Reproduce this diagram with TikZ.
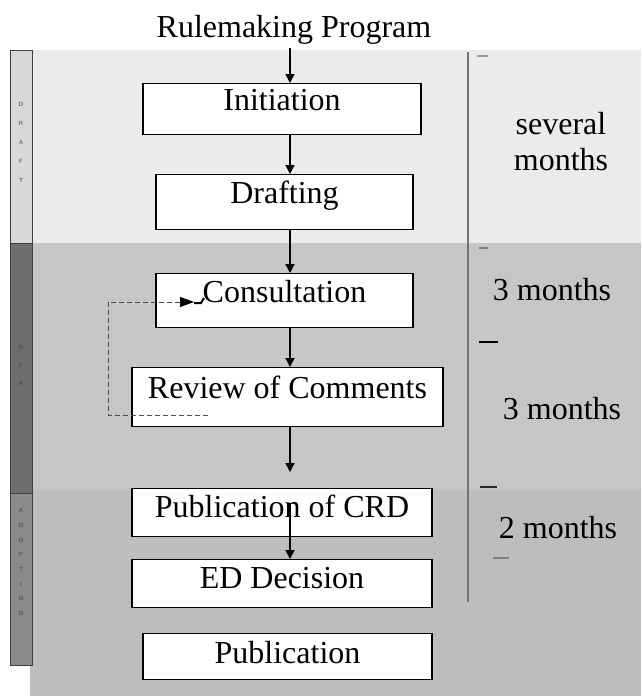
\documentclass[tikz,border=0pt]{standalone}
\usepackage{fontspec}
\setmainfont{Liberation Serif}
\usetikzlibrary{arrows.meta}
\definecolor{bandtop}{HTML}{EBEBEB}
\definecolor{bandmid}{HTML}{C6C6C6}
\definecolor{bandlow}{HTML}{BDBDBD}
\definecolor{striptop}{HTML}{D8D8D8}
\definecolor{stripmid}{HTML}{6E6E6E}
\definecolor{striplow}{HTML}{8A8A8A}
\newcommand{\stagefont}{\fontsize{32}{36}\selectfont}
\tikzset{
  stage/.style={draw=black, fill=white, line width=1.2pt, inner sep=0pt, anchor=north},
  flow/.style={line width=1.4pt, -{Triangle[length=9pt,width=9pt]}},
  feedback/.style={black!70, line width=0.9pt, dash pattern=on 5pt off 3pt, -{Triangle[length=14pt,width=10pt,color=black]}},
  strip/.style={draw=black!75, line width=1pt},
  stripletters/.style={font=\fontsize{6}{#1}\selectfont\sffamily, align=center, text=black!75, inner sep=0pt},
  tlmark/.style={line width=1.6pt}
}
\begin{document}
\begin{tikzpicture}[x=1pt,y=-1pt,font=\stagefont]
\useasboundingbox (0,0) rectangle (641,696);
\fill[bandtop] (32,50) rectangle (641,243);
\fill[bandmid] (32,243) rectangle (641,490);
\fill[bandlow] (30,490) rectangle (641,696);
\draw[strip, fill=striptop] (10,50) rectangle (32,243);
\draw[strip, fill=stripmid] (10,243) rectangle (32,493);
\draw[strip, fill=striplow] (10,493) rectangle (32,665);
\node[stripletters=19] (draftphase) at (21,142) {D\\R\\A\\F\\T};
\node[stripletters=18] (npaphase) at (21,365) {N\\P\\A};
\node[stripletters=14.7] (adoptphase) at (21,562) {A\\D\\O\\P\\T\\I\\O\\N};

\coordinate (ax) at (290,0);
\node[inner sep=4pt, anchor=base] (title) at (294,37) {Rulemaking Program};
\node[stage, minimum width=278pt, text height=27pt, text depth=24pt] (init) at (282,83) {Initiation};
\node[stage, minimum width=257pt, text height=29pt, text depth=26pt] (draft) at (284.5,174) {Drafting};
\node[stage, minimum width=257pt, text height=29pt, text depth=25pt] (consult) at (284.5,273) {Consultation};
\node[stage, minimum width=311pt, text height=31pt, text depth=28pt] (review) at (287.5,367) {Review of Comments};
\node[stage, minimum width=300pt, text height=29pt, text depth=19pt] (crd) at (282,488) {Publication of CRD};
\node[stage, minimum width=300pt, text height=29pt, text depth=19pt] (ed) at (282,559) {ED Decision};
\node[stage, minimum width=289pt, text height=30pt, text depth=16pt] (pub) at (287.5,633) {Publication};

\draw[flow] (title.south -| ax) -- (init.north -| ax);
\draw[flow] (init.south -| ax) -- (draft.north -| ax);
\draw[flow] (draft.south -| ax) -- (consult.north -| ax);
\draw[flow] (consult.south -| ax) -- (review.north -| ax);
\coordinate (revend) at (290,472);
\draw[flow] (review.south -| ax) -- (revend);
\coordinate (crdmid) at (290,503);
\draw[flow] (crdmid) -- (ed.north -| ax);

\coordinate (fbstart) at (208,415);
\coordinate (fbleft) at (108,0);
\coordinate (fbend) at (194,302);
\draw[feedback] (fbstart) -- (fbstart -| fbleft) -- (fbleft |- fbend) -- (fbend);
\draw[line width=2pt] (fbend) ++(0,1) -- ++(7,0) -- ++(3,-5);

\coordinate (tltop) at (468,52);
\coordinate (tlbot) at (468,602);
\draw[black!55, line width=2pt] (tltop) -- (tlbot);
\foreach \ty/\tx/\tw/\tc in {56/477/11/black!40, 248/479/9/black!50, 342/479/19/black, 487/480/17/black!85, 558/493/16/black!50}
  \draw[tlmark, \tc] (\tx,\ty) -- ++(\tw,0);
\node[anchor=base, align=center, inner sep=0pt] (several) at (561,170) {several\\months};
\node[anchor=base, inner sep=0pt] (dur1) at (552,300) {3 months};
\node[anchor=base, inner sep=0pt] (dur2) at (562,419) {3 months};
\node[anchor=base, inner sep=0pt] (dur3) at (558,538) {2 months};
\end{tikzpicture}
\end{document}
